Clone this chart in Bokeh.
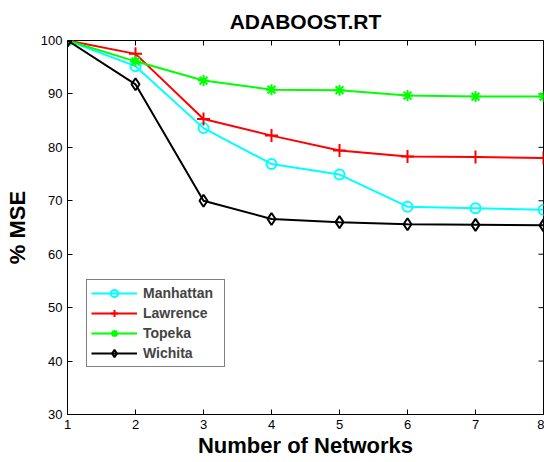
from bokeh.plotting import figure
from bokeh.models import FixedTicker, Legend, Range1d
from bokeh.embed import file_html
from bokeh.resources import INLINE
import math

networks = [1, 2, 3, 4, 5, 6, 7, 8]
manhattan = [100, 95.2, 83.6, 76.9, 74.9, 68.9, 68.6, 68.3]
lawrence = [100, 97.5, 85.3, 82.2, 79.4, 78.3, 78.2, 78.0]
topeka = [100, 96.1, 92.5, 90.8, 90.7, 89.7, 89.5, 89.5]
wichita = [100, 91.8, 70.0, 66.6, 66.0, 65.6, 65.5, 65.4]
x_ticks = [1, 2, 3, 4, 5, 6, 7, 8]
y_ticks = [30, 40, 50, 60, 70, 80, 90, 100]

FONT = "Liberation Sans"

p = figure(width=544, height=462, output_backend="svg", toolbar_location=None,
           x_range=Range1d(x_ticks[0], x_ticks[-1]), y_range=Range1d(y_ticks[0], y_ticks[-1]),
           min_border_left=67, min_border_right=1, min_border_top=40, min_border_bottom=48,
           background_fill_color="white", border_fill_color="white")

p.title.text = "ADABOOST.RT"
p.title.align = "center"
p.title.text_font = FONT
p.title.text_font_size = "21px"
p.title.text_font_style = "bold"
p.title.text_color = "black"
p.title.standoff = 15

p.grid.visible = False
p.outline_line_color = "black"
p.outline_line_width = 1

for ax in (p.xaxis[0], p.yaxis[0]):
    ax.major_tick_in = 5
    ax.major_tick_out = 0
    ax.minor_tick_line_color = None
    ax.axis_line_color = "black"
    ax.major_tick_line_color = "black"
    ax.major_label_text_font = FONT
    ax.major_label_text_font_size = "13px"
    ax.major_label_text_color = "black"
    ax.axis_label_text_font = FONT
    ax.axis_label_text_font_style = "bold"
    ax.axis_label_text_color = "black"

p.xaxis[0].ticker = FixedTicker(ticks=x_ticks)
p.yaxis[0].ticker = FixedTicker(ticks=y_ticks)
p.xaxis[0].axis_label = "Number of Networks"
p.xaxis[0].axis_label_text_font_size = "22px"
p.xaxis[0].major_label_standoff = 5
p.xaxis[0].axis_label_standoff = 1
p.yaxis[0].axis_label = "% MSE"
p.yaxis[0].axis_label_text_font_size = "22px"
p.yaxis[0].major_label_standoff = 5
p.yaxis[0].axis_label_standoff = 8

# inward box ticks on the top and right edges (MATLAB "box on")
p.scatter(x_ticks, [y_ticks[-1]] * len(x_ticks), marker="dash", angle=math.pi / 2,
          size=10, line_color="black", line_width=1)
p.scatter([x_ticks[-1]] * len(y_ticks), y_ticks, marker="dash",
          size=10, line_color="black", line_width=1)

series = [
    ("Manhattan", manhattan, "#00FFFF", "circle", 10),
    ("Lawrence", lawrence, "#FF0000", "cross", 13),
    ("Topeka", topeka, "#00FF00", "asterisk", 11),
    ("Wichita", wichita, "#000000", "diamond", 12),
]

items = []
for name, ys, color, marker, size in series:
    l = p.line(networks, ys, line_color=color, line_width=2)
    s = p.scatter(networks, ys, marker=marker, size=size,
                  line_color=color, line_width=2, fill_alpha=0)
    items.append((name, [l, s]))

legend = Legend(items=items, location=(19, 47), glyph_width=46, glyph_height=18,
                label_height=18, label_width=77, spacing=2, padding=4, label_standoff=6,
                label_text_font=FONT, label_text_font_size="14px",
                label_text_font_style="bold", border_line_color="black",
                border_line_width=1, background_fill_alpha=1)
p.add_layout(legend, "center")

open("out.html", "w").write(file_html(p, INLINE))
